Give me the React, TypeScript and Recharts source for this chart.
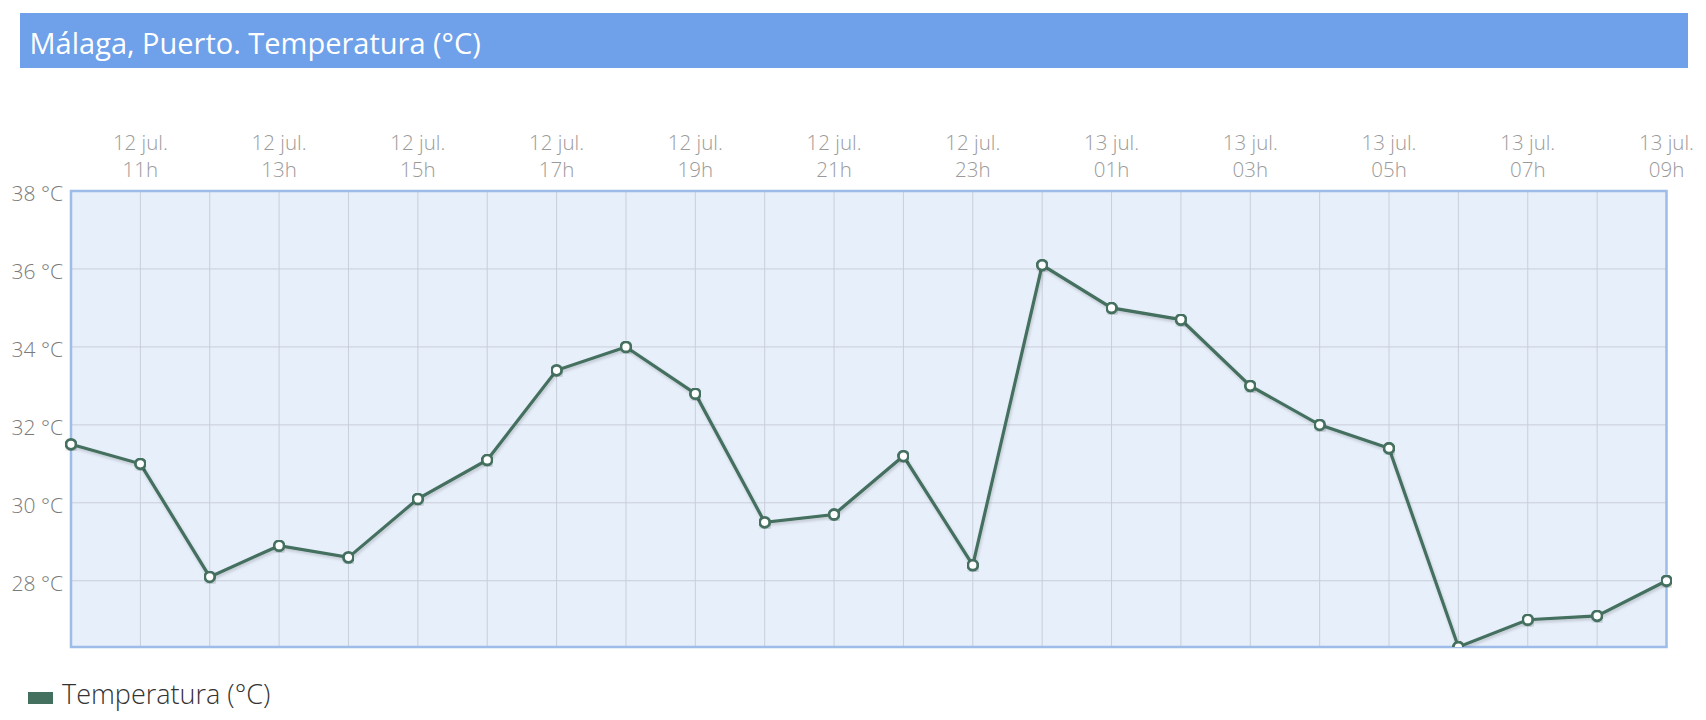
import React from 'react';
import { LineChart, Line, XAxis, YAxis, CartesianGrid, ReferenceArea } from 'recharts';

const days = [
  '12 jul.', '12 jul.', '12 jul.', '12 jul.', '12 jul.', '12 jul.', '12 jul.', '12 jul.',
  '12 jul.', '12 jul.', '12 jul.', '12 jul.', '12 jul.', '12 jul.',
  '13 jul.', '13 jul.', '13 jul.', '13 jul.', '13 jul.', '13 jul.', '13 jul.', '13 jul.', '13 jul.', '13 jul.',
];
const hours = [
  '10h', '11h', '12h', '13h', '14h', '15h', '16h', '17h', '18h', '19h', '20h', '21h', '22h', '23h',
  '00h', '01h', '02h', '03h', '04h', '05h', '06h', '07h', '08h', '09h',
];
const temps = [
  31.5, 31.0, 28.1, 28.9, 28.6, 30.1, 31.1, 33.4, 34.0, 32.8, 29.5, 29.7, 31.2, 28.4,
  36.1, 35.0, 34.7, 33.0, 32.0, 31.4, 26.3, 27.0, 27.1, 28.0,
];
const labeledHours = ['11h', '13h', '15h', '17h', '19h', '21h', '23h', '01h', '03h', '05h', '07h', '09h'];
const yTicks = [28, 30, 32, 34, 36, 38];
const Y_MAX = 38;

const data = hours.map((h, i) => ({ key: `${days[i]} ${h}`, day: days[i], hour: h, temp: temps[i] }));
const minTemp = Math.min(...temps);

const FONT = '"Open Sans", "Noto Sans", sans-serif';
const LINE_COLOR = '#44705f';

const XTick = (props: any) => {
  const { x, y, payload } = props;
  const d = data.find((r) => r.key === payload.value);
  if (!d || !labeledHours.includes(d.hour)) return <g />;
  return (
    <g>
      <text x={x} y={y - 41} textAnchor="middle" fill="#9a9a9a" fontSize={20.5} fontFamily={FONT} fontWeight={300}>
        {d.day}
      </text>
      <text x={x} y={y - 14} textAnchor="middle" fill="#9a9a9a" fontSize={20.5} fontFamily={FONT} fontWeight={300}>
        {d.hour}
      </text>
    </g>
  );
};

const YTick = (props: any) => {
  const { x, y, payload } = props;
  return (
    <text x={x} y={y + 10} textAnchor="end" fill="#7a7a7a" fontSize={21} fontFamily={FONT} fontWeight={300}>
      {`${payload.value} °C`}
    </text>
  );
};

export default function App() {
  return (
    <div style={{ position: 'absolute', left: 0, top: 0, width: 1706, height: 720, background: '#fff', fontFamily: FONT }}>
      <div style={{ position: 'absolute', left: 0, top: 0 }}>
        <LineChart width={1706} height={720} data={data} margin={{ top: 131, right: 39.5, bottom: 73, left: 11 }}>
          <defs>
            <filter id="lineShadow" x="-5%" y="-5%" width="110%" height="120%">
              <feDropShadow dx="1" dy="2" stdDeviation="1.5" floodColor="#000" floodOpacity="0.18" />
            </filter>
          </defs>
          <CartesianGrid fill="#e7effb" stroke="#c9cfd9" strokeWidth={1} />
          <XAxis
            dataKey="key"
            orientation="top"
            interval={0}
            height={60}
            tickLine={false}
            axisLine={false}
            tickSize={0}
            tickMargin={0}
            tick={<XTick />}
          />
          <YAxis
            type="number"
            domain={[minTemp, Y_MAX]}
            ticks={yTicks}
            width={60}
            tickLine={false}
            axisLine={false}
            tickSize={0}
            tickMargin={8}
            tick={<YTick />}
            allowDataOverflow
          />
          <ReferenceArea
            x1={data[0].key}
            x2={data[data.length - 1].key}
            y1={minTemp}
            y2={Y_MAX}
            fill="none"
            fillOpacity={0}
            stroke="#9dbde8"
            strokeWidth={2.5}
            ifOverflow="visible"
          />
          <Line
            type="linear"
            dataKey="temp"
            stroke={LINE_COLOR}
            strokeWidth={3.2}
            filter="url(#lineShadow)"
            dot={{ r: 5, fill: '#ffffff', stroke: LINE_COLOR, strokeWidth: 2.8 }}
            activeDot={false}
            isAnimationActive={false}
          />
        </LineChart>
      </div>
      <div
        style={{
          position: 'absolute',
          left: 20,
          top: 13,
          width: 1668,
          height: 55,
          background: '#6fa0ea',
        }}
      >
        <span style={{ position: 'absolute', left: 9.5, top: 10, color: '#ffffff', fontSize: 29, fontFamily: FONT, whiteSpace: 'nowrap' }}>
          Málaga, Puerto. Temperatura (°C)
        </span>
      </div>
      <div style={{ position: 'absolute', left: 28, top: 692, width: 25, height: 12, background: LINE_COLOR }} />
      <span style={{ position: 'absolute', left: 62, top: 675, color: '#333333', fontSize: 27, fontFamily: FONT, fontWeight: 300, whiteSpace: 'nowrap' }}>
        Temperatura (°C)
      </span>
    </div>
  );
}
